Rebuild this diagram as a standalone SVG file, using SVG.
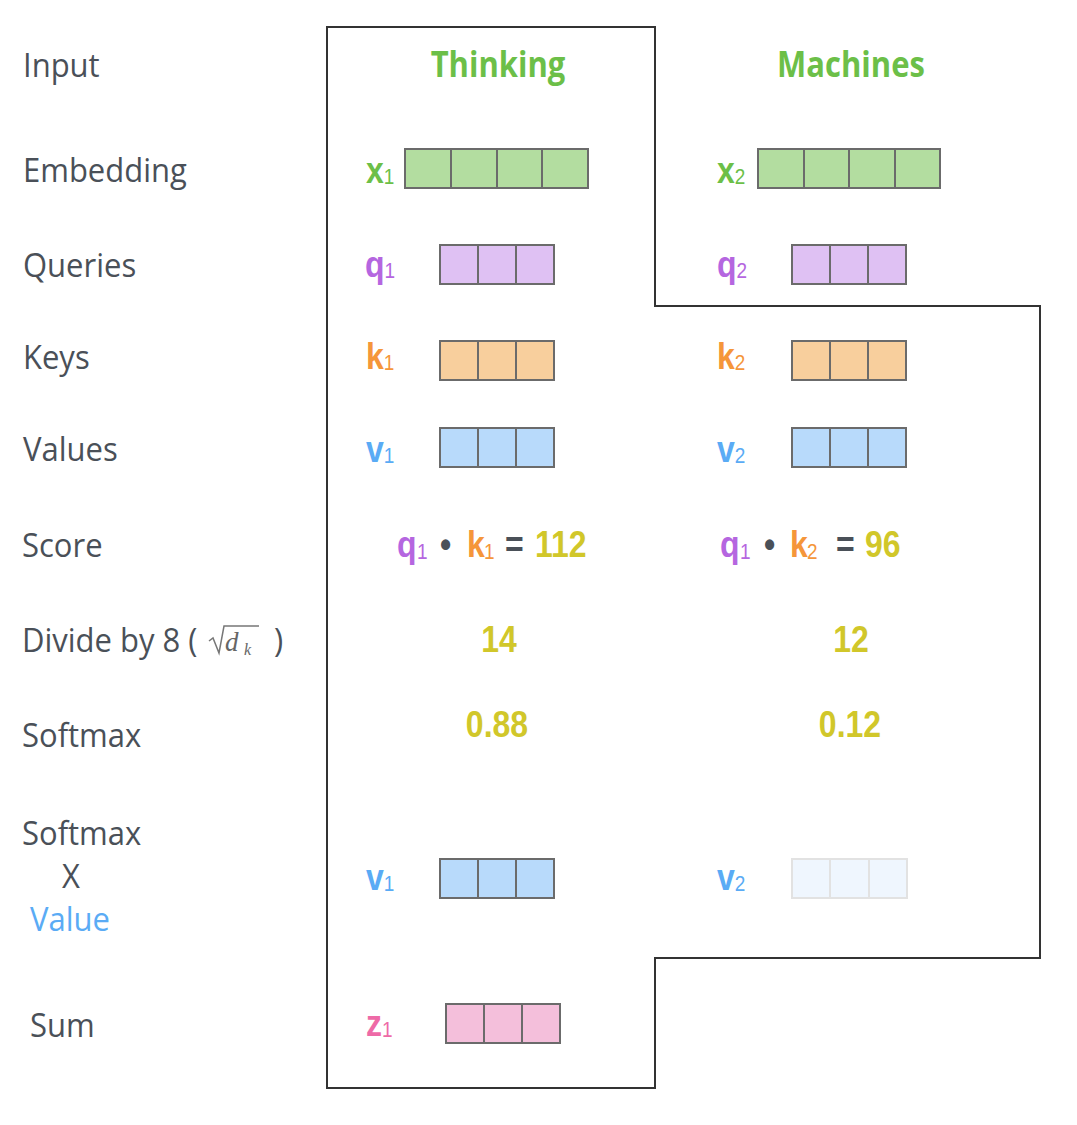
<svg xmlns="http://www.w3.org/2000/svg" width="1077" height="1125" viewBox="0 0 1077 1125">
<defs>
<style>
.lbl{font-family:"Open Sans","Liberation Sans",sans-serif;font-size:31px;font-weight:500;fill:#4a5058}
.hd{font-family:"Open Sans","Liberation Sans",sans-serif;font-size:31px;font-weight:bold;fill:#6cbf48}
.b{font-family:"Liberation Sans",Arial,sans-serif;font-weight:bold;font-size:32px}
.s{font-size:19px;font-weight:normal}
.g{fill:#6cbf48}.p{fill:#b566e0}.o{fill:#f5963a}.bl{fill:#5aabf5}.y{fill:#d1c72a}.pk{fill:#ee6aa7}.dk{fill:#4a5058}
.cell{stroke:#6b6b6b;stroke-width:2}
.fx{fill:#b3dda0}.fq{fill:#dfc1f3}.fk{fill:#f8cf9d}.fv{fill:#b8dafb}.fz{fill:#f4bfdb}
.faded{fill:#eff6fe;stroke:#e2e2e2;stroke-width:2}
.math{font-family:"Liberation Serif","DejaVu Serif",serif;font-style:italic;fill:#666}
</style>
</defs>

<g id="outline">
<path d="M327,27 H655 V306 H1040 V958 H655 V1088 H327 Z" fill="none" stroke="#333" stroke-width="2"/>
</g>

<g id="row-labels">
<text class="lbl" transform="translate(23,77) scale(1,1.05)">Input</text>
<text class="lbl" transform="translate(23,182) scale(1,1.05)">Embedding</text>
<text class="lbl" transform="translate(23,277) scale(1,1.05)">Queries</text>
<text class="lbl" transform="translate(23,369) scale(1,1.05)">Keys</text>
<text class="lbl" transform="translate(23,461) scale(1,1.05)">Values</text>
<text class="lbl" transform="translate(22,557) scale(1,1.05)">Score</text>
<text class="lbl" transform="translate(22,652) scale(1,1.05)">Divide by 8 (</text>
<g id="sqrt-dk">
<path d="M209,641 L213,638 L219,653 L224,626 H259" fill="none" stroke="#777" stroke-width="1.5"/>
<text class="math" x="225" y="651" font-size="27">d</text>
<text class="math" x="244" y="655" font-size="16">k</text>
</g>
<text class="lbl" transform="translate(274,652) scale(1,1.05)">)</text>
<text class="lbl" transform="translate(22,747) scale(1,1.05)">Softmax</text>
<text class="lbl" transform="translate(22,845) scale(1,1.05)">Softmax</text>
<text class="lbl" transform="translate(62,888) scale(1,1.05)">X</text>
<text class="lbl bl" transform="translate(30,931) scale(1,1.05)">Value</text>
<text class="lbl" transform="translate(30,1037) scale(1,1.05)">Sum</text>
</g>

<g id="head-thinking"><text class="hd" text-anchor="middle" transform="translate(498,77) scale(1,1.15)">Thinking</text></g>
<g id="head-machines"><text class="hd" text-anchor="middle" transform="translate(851,77) scale(1,1.15)">Machines</text></g>

<g id="x1">
<text class="b g" transform="translate(366,183) scale(1,1.15)">x<tspan class="s" dy="1">1</tspan></text>
<rect class="cell fx" x="405" y="149" width="183" height="39"/>
<path class="cell" d="M451,149V188M497,149V188M542,149V188"/>
</g>
<g id="x2">
<text class="b g" transform="translate(717,183) scale(1,1.15)">x<tspan class="s" dy="1">2</tspan></text>
<rect class="cell fx" x="758" y="149" width="182" height="39"/>
<path class="cell" d="M804,149V188M849,149V188M895,149V188"/>
</g>

<g id="q1">
<text class="b p" transform="translate(365,277) scale(1,1.15)">q<tspan class="s" dy="1">1</tspan></text>
<rect class="cell fq" x="440" y="245" width="114" height="39"/>
<path class="cell" d="M478,245V284M516,245V284"/>
</g>
<g id="q2">
<text class="b p" transform="translate(717,277) scale(1,1.15)">q<tspan class="s" dy="1">2</tspan></text>
<rect class="cell fq" x="792" y="245" width="114" height="39"/>
<path class="cell" d="M830,245V284M868,245V284"/>
</g>

<g id="k1">
<text class="b o" transform="translate(366,369) scale(1,1.15)">k<tspan class="s" dy="1">1</tspan></text>
<rect class="cell fk" x="440" y="341" width="114" height="39"/>
<path class="cell" d="M478,341V380M516,341V380"/>
</g>
<g id="k2">
<text class="b o" transform="translate(717,369) scale(1,1.15)">k<tspan class="s" dy="1">2</tspan></text>
<rect class="cell fk" x="792" y="341" width="114" height="39"/>
<path class="cell" d="M830,341V380M868,341V380"/>
</g>

<g id="v1">
<text class="b bl" transform="translate(366,462) scale(1,1.15)">v<tspan class="s" dy="1">1</tspan></text>
<rect class="cell fv" x="440" y="428" width="114" height="39"/>
<path class="cell" d="M478,428V467M516,428V467"/>
</g>
<g id="v2">
<text class="b bl" transform="translate(717,462) scale(1,1.15)">v<tspan class="s" dy="1">2</tspan></text>
<rect class="cell fv" x="792" y="428" width="114" height="39"/>
<path class="cell" d="M830,428V467M868,428V467"/>
</g>

<g id="score1">
<g transform="translate(0,557) scale(1,1.15)">
<text class="b p" x="397" y="0">q</text><text class="b p s" x="417" y="2">1</text>
<text class="b dk" x="440" y="0">•</text>
<text class="b o" x="467" y="0">k</text><text class="b o s" x="484" y="2">1</text>
<text class="b dk" x="505" y="0">=</text>
<text class="b y" x="535" y="0">112</text>
</g>
</g>
<g id="score2">
<g transform="translate(0,557) scale(1,1.15)">
<text class="b p" x="720" y="0">q</text><text class="b p s" x="740" y="2">1</text>
<text class="b dk" x="764" y="0">•</text>
<text class="b o" x="790" y="0">k</text><text class="b o s" x="807" y="2">2</text>
<text class="b dk" x="836" y="0">=</text>
<text class="b y" x="865" y="0">96</text>
</g>
</g>

<g id="div1"><text class="b y" text-anchor="middle" transform="translate(499,652) scale(1,1.15)">14</text></g>
<g id="div2"><text class="b y" text-anchor="middle" transform="translate(851,652) scale(1,1.15)">12</text></g>
<g id="sm1"><text class="b y" text-anchor="middle" transform="translate(497,737) scale(1,1.15)">0.88</text></g>
<g id="sm2"><text class="b y" text-anchor="middle" transform="translate(850,737) scale(1,1.15)">0.12</text></g>

<g id="wv1">
<text class="b bl" transform="translate(366,890) scale(1,1.15)">v<tspan class="s" dy="1">1</tspan></text>
<rect class="cell fv" x="440" y="859" width="114" height="39"/>
<path class="cell" d="M478,859V898M516,859V898"/>
</g>
<g id="wv2">
<text class="b bl" transform="translate(717,890) scale(1,1.15)">v<tspan class="s" dy="1">2</tspan></text>
<rect class="faded" x="792" y="859" width="115" height="39"/>
<path class="faded" d="M830,859V898M869,859V898"/>
</g>

<g id="z1">
<text class="b pk" transform="translate(366,1036) scale(1,1.15)">z<tspan class="s" dy="1">1</tspan></text>
<rect class="cell fz" x="446" y="1004" width="114" height="39"/>
<path class="cell" d="M484,1004V1043M522,1004V1043"/>
</g>
</svg>
